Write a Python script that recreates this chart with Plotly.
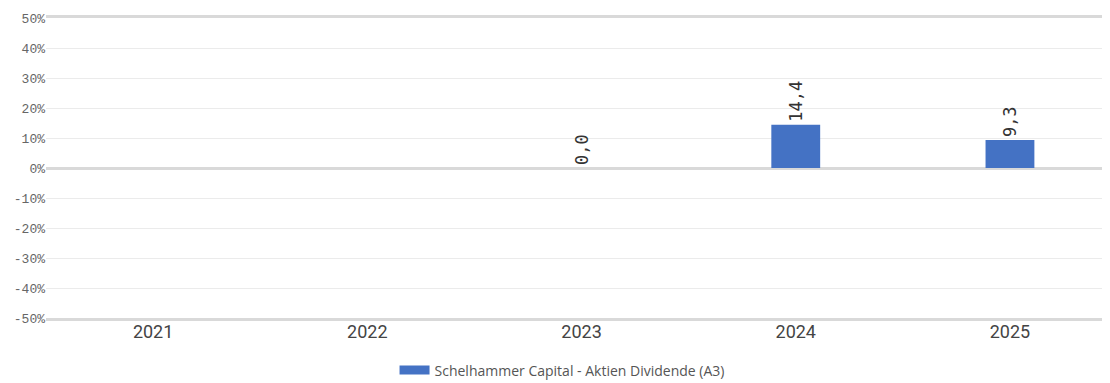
import plotly.graph_objects as go

years = ["2021", "2022", "2023", "2024", "2025"]
returns = [None, None, 0.0, 14.4, 9.3]
series_name = "Schelhammer Capital - Aktien Dividende (A3)"
y_ticks = [-50, -40, -30, -20, -10, 0, 10, 20, 30, 40, 50]
y_tick_text = [f"{v}%" for v in y_ticks]

bar_color = "#4472c4"

fig = go.Figure()

fig.add_trace(go.Bar(
    x=years, y=returns,
    name=series_name,
    showlegend=False,
    marker=dict(color=bar_color, line=dict(width=0)),
    width=0.228,
    text=[None if v is None else f"{v:.1f}".replace(".", ",") for v in returns],
    textposition="outside",
    textangle=-90,
    textfont=dict(family="DejaVu Sans Mono", size=17, color="#333333"),
    cliponaxis=False,
))

# legend entry with a wide swatch
fig.add_trace(go.Scatter(
    x=[None], y=[None], mode="lines", name=series_name,
    line=dict(color=bar_color, width=9),
))

# page body has an 8px margin, so the figure is sized to the rest of the window
fig.update_layout(
    width=1102, height=375,
    margin=dict(l=38, r=0, t=10, b=65, autoexpand=False),
    plot_bgcolor="white",
    paper_bgcolor="white",
    showlegend=True,
    legend=dict(
        orientation="h", x=0.485, xanchor="center", y=-0.175, yanchor="middle",
        font=dict(family="Open Sans", size=14, color="#555555"),
    ),
    xaxis=dict(
        range=[-0.5, 4.467],
        automargin=False,
        showgrid=False,
        showline=True, linewidth=3, linecolor="#d9d9d9", mirror=True,
        ticks="",
        ticklabelstandoff=-5,
        tickfont=dict(family="Roboto", size=18, color="#444444"),
    ),
    yaxis=dict(
        range=[-50, 50],
        automargin=False,
        tickvals=y_ticks,
        ticktext=y_tick_text,
        showgrid=True, gridcolor="#ebebeb", gridwidth=1,
        zeroline=True, zerolinecolor="#d9d9d9", zerolinewidth=3,
        showline=False,
        ticks="",
        tickfont=dict(family="Liberation Mono", size=13, color="#666666"),
    ),
)

fig.write_html("out.html")
